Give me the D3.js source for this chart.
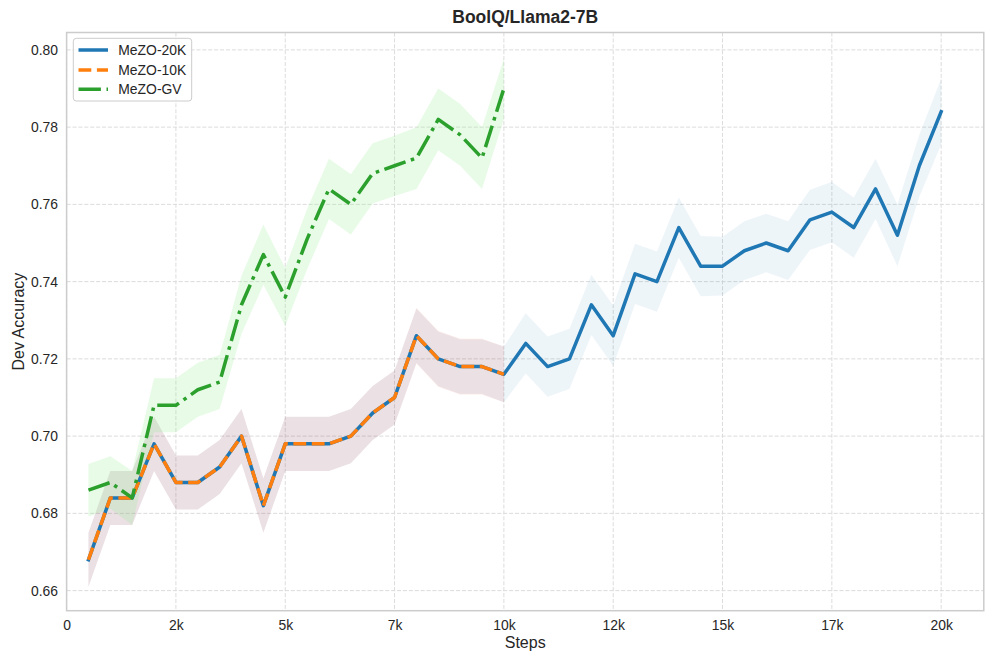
<!DOCTYPE html>
<html><head><meta charset="utf-8">
<script src="https://cdn.jsdelivr.net/npm/d3@7"></script>
<style>
body{margin:0;background:#fff}
svg{display:block}
text{font-family:"Liberation Sans",Arial,Helvetica,sans-serif;fill:#262626}
</style>
</head><body>
<svg id="chart" width="996" height="664"></svg>
<script>
// ---- data ----
const steps20K = [500,1000,1500,2000,2500,3000,3500,4000,4500,5000,5500,6000,6500,7000,7500,8000,8500,9000,9500,10000,
                  10500,11000,11500,12000,12500,13000,13500,14000,14500,15000,15500,16000,16500,17000,17500,18000,18500,19000,19500,20000];
const acc20K = [0.668,0.684,0.684,0.698,0.688,0.688,0.692,0.700,0.682,0.698,0.698,0.698,0.700,0.706,0.710,0.726,0.720,0.718,0.718,0.716,
                0.724,0.718,0.720,0.734,0.726,0.742,0.740,0.754,0.744,0.744,0.748,0.750,0.748,0.756,0.758,0.754,0.764,0.752,0.770,0.784];
const std20K = [0.007,0.007,0.007,0.007,0.007,0.007,0.007,0.007,0.007,0.007,0.007,0.007,0.007,0.007,0.007,0.007,0.007,0.007,0.007,0.0072,
                0.0078,0.0078,0.0078,0.0078,0.0078,0.0078,0.0078,0.0078,0.0078,0.0076,0.0076,0.0076,0.0076,0.0078,0.0078,0.0078,0.0078,0.008,0.008,0.0085];

const steps10K = [500,1000,1500,2000,2500,3000,3500,4000,4500,5000,5500,6000,6500,7000,7500,8000,8500,9000,9500,10000];
const acc10K = [0.668,0.684,0.684,0.698,0.688,0.688,0.692,0.700,0.682,0.698,0.698,0.698,0.700,0.706,0.710,0.726,0.720,0.718,0.718,0.716];
const std10K = [0.007,0.007,0.007,0.007,0.007,0.007,0.007,0.007,0.007,0.007,0.007,0.007,0.007,0.007,0.007,0.0072,0.0072,0.0072,0.0072,0.0072];

const stepsGV = [500,1000,1500,2000,2500,3000,3500,4000,4500,5000,5500,6000,6500,7000,7500,8000,8500,9000,9500,10000];
const accGV = [0.686,0.688,0.684,0.708,0.708,0.712,0.714,0.734,0.747,0.736,0.751,0.764,0.760,0.768,0.770,0.772,0.782,0.778,0.772,0.790];
const stdGV = [0.0068,0.0068,0.007,0.007,0.007,0.007,0.007,0.0075,0.0078,0.0075,0.0078,0.0078,0.0078,0.0078,0.0078,0.008,0.008,0.008,0.008,0.0078];

const xTickValues = [0,2500,5000,7500,10000,12500,15000,17500,20000];
const xTickLabels = ["0","2k","5k","7k","10k","12k","15k","17k","20k"];
const yTickValues = [0.66,0.68,0.70,0.72,0.74,0.76,0.78,0.80];

const seriesNames = ["MeZO-20K","MeZO-10K","MeZO-GV"];
const seriesColors = ["#1f77b4","#ff7f0e","#2ca02c"];
const title = "BoolQ/Llama2-7B";
const xLabel = "Steps";
const yLabel = "Dev Accuracy";

// ---- layout ----
const svg = d3.select("#chart");
svg.append("rect").attr("width",996).attr("height",664).attr("fill","#fff");
const L = 66.6, R = 983.8, T = 32.5, B = 610.7;
const x = d3.scaleLinear().domain([0, 20975]).range([L, R]);
const y = d3.scaleLinear().domain([0.6548, 0.8045]).range([B, T]);

// grid
const grid = svg.append("g");
grid.selectAll(".vg").data(xTickValues).enter().append("line")
  .attr("x1",d=>x(d)).attr("x2",d=>x(d)).attr("y1",T).attr("y2",B)
  .attr("stroke","#dcdcdc").attr("stroke-width",1).attr("stroke-dasharray","4.1,1.8");
grid.selectAll(".hg").data(yTickValues).enter().append("line")
  .attr("y1",d=>y(d)).attr("y2",d=>y(d)).attr("x1",L).attr("x2",R)
  .attr("stroke","#dcdcdc").attr("stroke-width",1).attr("stroke-dasharray","4.1,1.8");

// bands
function pts(s,a,sd){ return s.map((v,i)=>({s:v,m:a[i],sd:sd[i]})); }
const area = d3.area().x(d=>x(d.s)).y0(d=>y(d.m-d.sd)).y1(d=>y(d.m+d.sd));
svg.append("path").datum(pts(steps20K,acc20K,std20K)).attr("d",area)
  .attr("fill","#1f77b4").attr("fill-opacity",0.075);
svg.append("path").datum(pts(steps10K,acc10K,std10K)).attr("d",area)
  .attr("fill","#d62728").attr("fill-opacity",0.1);
svg.append("path").datum(pts(stepsGV,accGV,stdGV)).attr("d",area)
  .attr("fill","#90ee90").attr("fill-opacity",0.22);

// lines
const line = d3.line().x(d=>x(d.s)).y(d=>y(d.m));
const dashes = [null,"12.8,5.6","22.4,5.6,3.5,5.6"];
const data = [pts(steps20K,acc20K,std20K),pts(steps10K,acc10K,std10K),pts(stepsGV,accGV,stdGV)];
data.forEach((d,i)=>{
  svg.append("path").datum(d).attr("d",line)
    .attr("fill","none").attr("stroke",seriesColors[i]).attr("stroke-width",3.5)
    .attr("stroke-linejoin","round").attr("stroke-linecap", i===0?"square":"butt")
    .attr("stroke-dasharray",dashes[i]);
});

// frame
svg.append("rect").attr("x",L).attr("y",T).attr("width",R-L).attr("height",B-T)
  .attr("fill","none").attr("stroke","#cccccc").attr("stroke-width",1.5);

// axes (tick labels only, no tick marks)
const xAxis = d3.axisBottom(x).tickValues(xTickValues).tickFormat((d,i)=>xTickLabels[i]).tickSize(0).tickPadding(9);
const gx = svg.append("g").attr("transform",`translate(0,${B})`).call(xAxis);
gx.select(".domain").remove();
gx.selectAll("text").attr("font-size","13.9px").attr("font-family",null).style("fill","#262626");
const yAxis = d3.axisLeft(y).tickValues(yTickValues).tickFormat(d3.format(".2f")).tickSize(0).tickPadding(8.6);
const gy = svg.append("g").attr("transform",`translate(${L},0)`).call(yAxis);
gy.select(".domain").remove();
gy.selectAll("text").attr("font-size","13.9px").attr("font-family",null).style("fill","#262626");

// labels
svg.append("text").attr("x",(L+R)/2).attr("y",23).attr("text-anchor","middle")
  .attr("font-size","17.5px").attr("font-weight","bold").text(title);
svg.append("text").attr("x",(L+R)/2).attr("y",647.5).attr("text-anchor","middle")
  .attr("font-size","16px").text(xLabel);
svg.append("text").attr("transform",`translate(23.5,${(T+B)/2}) rotate(-90)`).attr("text-anchor","middle")
  .attr("font-size","16px").text(yLabel);

// legend
const lg = svg.append("g");
lg.append("rect").attr("x",73.3).attr("y",38.3).attr("width",118.4).attr("height",62.7).attr("rx",3)
  .attr("fill","#fff").attr("fill-opacity",0.8).attr("stroke","#cccccc").attr("stroke-width",1);
const ly = [50,70,89.3];
seriesNames.forEach((n,i)=>{
  lg.append("line").attr("x1",78.5).attr("x2",108).attr("y1",ly[i]).attr("y2",ly[i])
    .attr("stroke",seriesColors[i]).attr("stroke-width",3.5).attr("stroke-dasharray",dashes[i]);
  lg.append("text").attr("x",118.3).attr("y",ly[i]).attr("dy","0.35em").attr("font-size","13.9px").text(n);
});
</script>
</body></html>
